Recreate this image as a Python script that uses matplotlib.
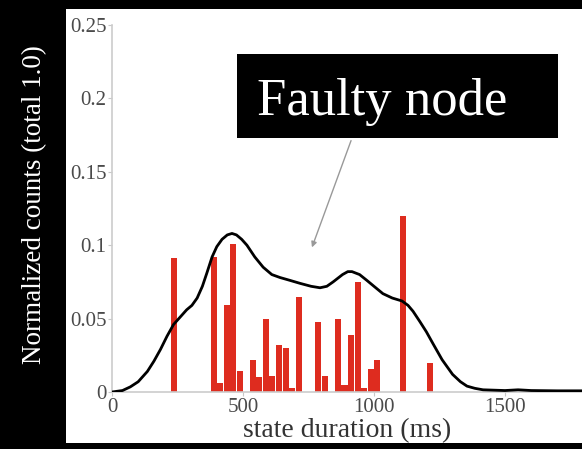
import numpy as np
import matplotlib.pyplot as plt
from matplotlib.patches import Rectangle

# histogram bins (ms, bin centres) and normalized counts
bin_centers = [237.5, 387.5, 412.5, 437.5, 462.5, 487.5, 537.5, 562.5, 587.5,
               612.5, 637.5, 662.5, 687.5, 712.5, 787.5, 812.5, 862.5, 887.5,
               912.5, 937.5, 962.5, 987.5, 1012.5, 1112.5, 1212.5]
counts = [0.091, 0.092, 0.006, 0.059, 0.101, 0.014, 0.022, 0.010, 0.050,
          0.011, 0.032, 0.030, 0.003, 0.065, 0.048, 0.011, 0.050, 0.005,
          0.039, 0.075, 0.003, 0.016, 0.022, 0.120, 0.020]

# density curve
curve_x = [0, 40, 70, 100, 135, 160, 185, 210, 235, 260, 285, 305, 325, 345,
           362, 382, 400, 420, 440, 458, 475, 495, 515, 545, 577, 610, 641,
           680, 718, 760, 794, 820, 844, 880, 900, 916, 945, 973, 1000, 1034,
           1070, 1107, 1130, 1149, 1175, 1200, 1225, 1260, 1300, 1330, 1355,
           1385, 1416, 1500, 1550, 1600, 1700, 1800]
curve_y = [0, 0.001, 0.0035, 0.007, 0.014, 0.021, 0.029, 0.038, 0.046, 0.051,
           0.056, 0.059, 0.064, 0.072, 0.081, 0.092, 0.099, 0.104, 0.107, 0.108,
           0.107, 0.104, 0.100, 0.092, 0.085, 0.080, 0.078, 0.076, 0.074, 0.072,
           0.071, 0.072, 0.075, 0.080, 0.082, 0.082, 0.080, 0.076, 0.072, 0.067,
           0.064, 0.062, 0.059, 0.055, 0.048, 0.041, 0.033, 0.022, 0.012, 0.007,
           0.004, 0.0025, 0.0015, 0.001, 0.0015, 0.001, 0.0008, 0.0008]

xticks = [0, 500, 1000, 1500]
yticks = [0, 0.05, 0.1, 0.15, 0.2, 0.25]
ytick_labels = ['0', '0.05', '0.1', '0.15', '0.2', '0.25']

plt.rcParams['font.family'] = ['Liberation Serif', 'DejaVu Serif']

W, H = 582, 449
fig = plt.figure(figsize=(W / 100, H / 100), dpi=100, facecolor='black')

# white panel behind the plot
fig.patches.append(Rectangle((66 / W, 1 - 443 / H), 1 - 66 / W, (443 - 9) / H,
                             transform=fig.transFigure, facecolor='white',
                             edgecolor='none', zorder=-1))

ax = fig.add_axes([112 / W, 1 - 392 / H, 1 - 112 / W, (392 - 25) / H])
ax.set_facecolor('none')

ax.bar(bin_centers, counts, width=23, color='#de2c1f', zorder=2)
ax.plot(curve_x, curve_y, color='black', lw=2, zorder=3,
        solid_joinstyle='round', solid_capstyle='round')

ax.set_xlim(0, 1794)
ax.set_ylim(0, 0.25)
ax.set_xticks(xticks)
ax.set_yticks(yticks)
ax.set_yticklabels(ytick_labels)
ax.tick_params(colors='#c8c8c8', labelcolor='#4a4a4a', labelsize=15,
               length=3, width=0.8, pad=1)
for side in ['top', 'right']:
    ax.spines[side].set_visible(False)
for side in ['left', 'bottom']:
    ax.spines[side].set_color('#cccccc')
    ax.spines[side].set_linewidth(1.2)
ax.set_xlabel('state duration (ms)', fontsize=20, color='#333333', labelpad=1)

fig.text(35 / W, 1 - 205 / H, 'Normalized counts (total 1.0)', rotation=90,
         color='white', fontsize=19.5, ha='center', va='center')

# "Faulty node" callout
fig.patches.append(Rectangle((237 / W, 1 - 138 / H), (558 - 237) / W, (138 - 54) / H,
                             transform=fig.transFigure, facecolor='black',
                             edgecolor='none', zorder=5))
fig.text(257 / W, 1 - 115 / H, 'Faulty node', color='white', fontsize=38,
         ha='left', va='baseline', zorder=6)
ax.annotate('', xy=(311 / W, 1 - 250 / H), xycoords='figure fraction',
            xytext=(352 / W, 1 - 138 / H), textcoords='figure fraction',
            arrowprops=dict(arrowstyle='-|>', color='#999999', lw=1,
                            mutation_scale=8))

fig.savefig('out.png', dpi=100, facecolor='black')
